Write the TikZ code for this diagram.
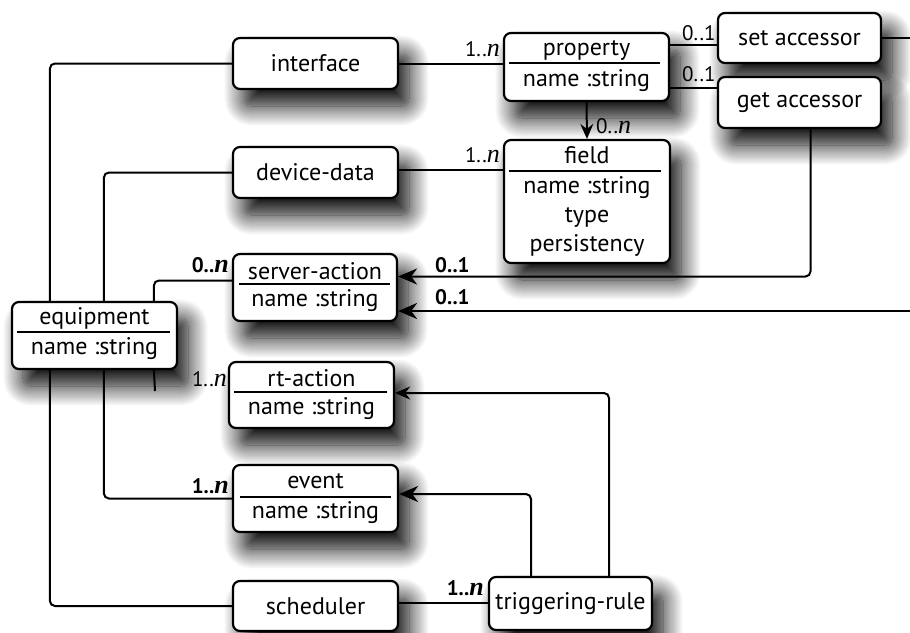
\documentclass[tikz,border=0pt]{standalone}
\usepackage{fontspec}
\setmainfont{PT Sans}
\newfontfamily\nfam{Liberation Serif}
\newcommand{\nn}{{\nfam\itshape\fontsize{26}{26}\selectfont n}}
\usetikzlibrary{shadows.blur,arrows.meta,calc}
\begin{document}
\begin{tikzpicture}[x=1pt,y=-1pt,
  box/.style={draw, line width=2.2pt, rounded corners=7pt, fill=white, inner sep=0pt,
     blur shadow={shadow xshift=11pt, shadow yshift=-17pt, shadow blur radius=20pt, shadow blur steps=20, shadow opacity=100}},
  txt/.style={font=\fontsize{24}{28}\selectfont, inner sep=0pt},
  lab/.style={font=\fontsize{21}{24}\selectfont, inner sep=0pt},
  blab/.style={lab, font=\fontsize{21}{24}\selectfont\bfseries},
  conn/.style={line width=2pt, rounded corners=5pt},
  arr/.style={conn, -{Stealth[length=19pt,width=16pt,inset=6pt]}},
  sarr/.style={conn, -{Stealth[length=15pt,width=13pt,inset=5pt]}},
  div/.style={line width=1.3pt}
]
\useasboundingbox (0,0) rectangle (910,632);

% single-line boxes
\node[box, txt, minimum width=165pt, minimum height=51pt] (interface) at (315.5,63.5) {interface};
\node[box, txt, minimum width=165pt, minimum height=51pt] (devdata) at (315.5,172.5) {device-data};
\node[box, txt, minimum width=165pt, minimum height=50pt] (scheduler) at (315.5,606) {scheduler};
\node[box, txt, minimum width=163pt, minimum height=53pt] (trig) at (570.5,603.5) {triggering-rule};
\node[box, txt, minimum width=163pt, minimum height=50pt] (setacc) at (799.5,38) {set accessor};
\node[box, txt, minimum width=163pt, minimum height=51pt] (getacc) at (799.5,102.5) {get accessor};

% class boxes
\node[box, minimum width=164pt, minimum height=67pt] (saction) at (315,287.5) {};
\node[txt] (sactionN) at (315,271) {server-action};
\node[txt] (sactionA) at (315,301) {name :string};
\draw[div] ($(saction.west)+(7,-3.5)$) -- ($(saction.east)+(-8,-3.5)$);

\node[box, minimum width=165pt, minimum height=67pt] (equip) at (94.5,335.5) {};
\node[txt] (equipN) at (94.5,318) {equipment};
\node[txt] (equipA) at (94.5,349) {name :string};
\draw[div] ($(equip.west)+(6,-3.5)$) -- ($(equip.east)+(-8,-3.5)$);

\node[box, minimum width=165pt, minimum height=66pt] (rtaction) at (311.5,395) {};
\node[txt] (rtactionN) at (311.5,378) {rt-action};
\node[txt] (rtactionA) at (311.5,409) {name :string};
\draw[div] ($(rtaction.west)+(6,-3)$) -- ($(rtaction.east)+(-8,-3)$);

\node[box, minimum width=165pt, minimum height=67pt] (event) at (315.5,498.5) {};
\node[txt] (eventN) at (315.5,481) {event};
\node[txt] (eventA) at (315.5,513) {name :string};
\draw[div] ($(event.west)+(8,-1.5)$) -- ($(event.east)+(-8,-1.5)$);

\node[box, minimum width=165pt, minimum height=68pt] (property) at (586.5,67) {};
\node[txt] (propertyN) at (586.5,50) {property};
\node[txt] (propertyA) at (586.5,81) {name :string};
\draw[div] ($(property.west)+(6,-4)$) -- ($(property.east)+(-10,-4)$);

\node[box, minimum width=166pt, minimum height=123pt] (field) at (587,201.5) {};
\node[txt] (fieldN) at (587,155) {field};
\node[txt] (fieldA) at (587,188) {name :string};
\node[txt] (fieldB) at (587,217) {type};
\node[txt] (fieldC) at (587,245) {persistency};
\draw[div] ($(field.west)+(6,-30.5)$) -- ($(field.east)+(-10,-30.5)$);

% free ends
\coordinate (setout) at (910,38);
\coordinate (lowin) at (910,311);
\coordinate (stubend) at (155,391);

% connectors
\draw[conn] ([xshift=39pt]equip.north west) |- (interface.west);
\draw[conn] ([xshift=93pt]equip.north west) |- (devdata.west);
\draw[conn] ([xshift=143pt]equip.north west) |- ([yshift=7pt]saction.west);
\draw[conn] ([xshift=39pt]equip.south west) |- (scheduler.west);
\draw[conn] ([xshift=93pt]equip.south west) |- (event.west);
\draw[conn] ([xshift=143pt]equip.south west) -- (stubend);

\draw[conn] (interface.east) -- (interface.east -| property.west);
\draw[conn] ([yshift=3pt]devdata.east) -- ([yshift=3pt]devdata.east -| field.west);
\draw[sarr] (property.south) -- (field.north);
\draw[conn] ([yshift=-13pt]property.north east) -- ([yshift=-13pt]property.north east -| setacc.west);
\draw[conn] ([yshift=14pt]property.south east) -- ([yshift=14pt]property.south east -| getacc.west);
\draw[conn] (setacc.east) -- (setout);

\draw[arr] ([xshift=11pt]getacc.south) |- ([yshift=11pt]saction.east);
\draw[arr] (lowin) -- (lowin -| saction.east);

\draw[arr] ([xshift=-39.5pt]trig.north) |- ([yshift=4.5pt]event.east);
\draw[sarr] ([xshift=38.5pt]trig.north) |- ([yshift=2pt]rtaction.east);
\draw[conn] ([yshift=3pt]scheduler.east) -- ([yshift=3pt]scheduler.east -| trig.west);

% multiplicities
\node[blab, anchor=east] (m1) at (229,265) {0..\nn};
\node[lab, anchor=east] (m2) at (227,379) {1..\nn};
\node[blab, anchor=east] (m3) at (229,486) {1..\nn};
\node[lab, anchor=east] (m4) at (500,49) {1..\nn};
\node[lab, anchor=east] (m5) at (500,155) {1..\nn};
\node[lab, anchor=west] (m6) at (596,126) {0..\nn};
\node[lab, anchor=west] (m7) at (682,33) {0..1};
\node[lab, anchor=west] (m8) at (682,74) {0..1};
\node[blab, anchor=west] (m9) at (435,265) {0..1};
\node[blab, anchor=west] (m10) at (435,297) {0..1};
\node[blab, anchor=east] (m11) at (484,588) {1..\nn};
\end{tikzpicture}
\end{document}
